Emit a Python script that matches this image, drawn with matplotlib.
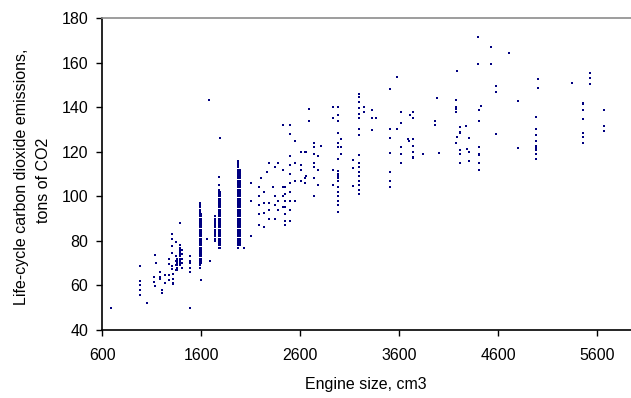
import matplotlib
matplotlib.use("Agg")
import matplotlib.pyplot as plt

plt.rcParams['font.family'] = ['Liberation Sans', 'DejaVu Sans']

# scattered cars, engines under 1500 cm3
small_cc = [690, 980, 980, 980, 980, 985, 1047,
            1120, 1140, 1125, 1130, 1130, 1180, 1180, 1180, 1206, 1206,
            1233, 1233, 1273, 1273, 1273, 1273,
            1300, 1300, 1300, 1300, 1300, 1308, 1318, 1318, 1318, 1318,
            1341, 1341, 1341, 1341, 1341,
            1358, 1358, 1358, 1358, 1358, 1358,
            1385, 1385, 1385, 1385, 1385, 1385, 1385, 1385, 1385, 1385, 1385,
            1400, 1400, 1400, 1400, 1400,
            1483, 1483, 1483, 1483, 1483, 1483]
small_co2 = [50, 68.5, 62, 58, 55.5, 60, 52,
             64, 70, 61.7, 59.7, 73.6, 66, 64, 63, 56.7, 58,
             64.7, 61, 71.7, 69.6, 64.7, 62.4,
             81, 77.6, 74.6, 68.6, 67.2, 83, 65, 63, 61, 60.5,
             79.6, 73, 71, 69, 67,
             72, 71, 70, 69, 68, 67,
             88, 78, 77, 76, 75, 74, 73, 72, 71, 70, 69,
             76, 74, 72, 70, 68,
             73, 71, 70, 68, 66, 50]

# dense model columns
col1600_co2 = [68, 69, 70, 71, 72, 73, 74, 75, 76, 77, 78, 79, 80, 81, 82, 83,
               84, 85, 86, 87, 88, 89, 90, 91, 92, 93, 94, 95, 96, 97]
col1600b_co2 = [70, 71, 72, 73, 74, 75, 76, 77, 78, 79, 80, 81, 82, 83, 84,
                85, 86, 87, 88, 89, 90, 91, 92]
col1750_co2 = [80, 81, 82, 83, 84, 85, 86, 87, 88, 89, 90, 91]
col1800_co2 = [77, 78, 79, 80, 81, 82, 83, 84, 85, 86, 87, 88, 89, 90, 91, 92,
               93, 94, 95, 96, 97, 98, 99, 100, 101, 102, 103, 105, 108.8]
col1800b_co2 = [77, 78, 79, 80, 81, 82, 83, 84, 85, 86, 87, 88, 89, 90, 91,
                92, 93, 94, 95, 96, 97, 98, 99, 100, 101, 102]
col2000_co2 = [77, 78, 79, 80, 81, 82, 83, 84, 85, 86, 87, 88, 89, 90, 91, 92,
               93, 94, 95, 96, 97, 98, 99, 100, 101, 102, 103, 104, 105, 106,
               107, 108, 109, 110, 111, 112, 113, 114, 115, 116]
col2000b_co2 = [78, 79, 80, 81, 82, 83, 84, 85, 86, 87, 88, 89, 90, 91, 92, 93,
                94, 95, 96, 97, 98, 99, 100, 101, 102, 103, 104, 105, 106, 107,
                108, 109, 110, 111, 112]

# scattered cars, 1500 - 3000 cm3
mid_cc = [1598, 1690, 1660, 1676, 1785, 2034,
          2100, 2100, 2100, 2184, 2184, 2184, 2184, 2184,
          2200, 2235, 2235, 2235, 2235, 2260, 2285, 2285, 2285, 2285, 2320,
          2346, 2346, 2346, 2346, 2376, 2376, 2376,
          2424, 2424, 2424, 2424, 2424,
          2448, 2448, 2448, 2448, 2448, 2448, 2448,
          2491, 2491, 2491, 2491, 2491, 2491, 2491, 2491, 2491, 2491,
          2542, 2542, 2542, 2542, 2603, 2603, 2603, 2603,
          2661, 2661, 2685, 2685, 2650, 2650, 2650,
          2739, 2739, 2739, 2739, 2739, 2739, 2739,
          2780, 2780, 2780, 2806,
          2930, 2930, 2930, 2930,
          2980, 2980, 2980, 2980, 2980, 2980, 2980, 2980, 2980, 2980, 2980,
          2980, 2980, 2980, 2980, 2980, 2980, 2980,
          3010, 3010, 3010]
mid_co2 = [62.6, 70.8, 81, 143, 126, 77,
           106, 98, 82, 104, 100, 96, 92, 87,
           108, 102, 97, 92.5, 86, 111, 115, 97, 94, 90, 104,
           113, 100, 96, 90, 115, 98, 94,
           132, 112, 104, 100, 95,
           104, 101, 98, 95, 92, 89, 87,
           132, 128, 118, 114, 110, 106, 102, 98, 94, 89,
           125, 115, 107, 98, 120, 114, 112, 107,
           120, 109, 139, 134, 120, 108, 106,
           124, 122, 119, 115, 113, 108, 100,
           118, 112, 105, 122.6,
           140, 135, 112, 105,
           140, 136.5, 134, 128.5, 124, 122, 116.6, 111.4, 110, 109, 108,
           107, 104, 102, 100, 98, 96, 93,
           125.7, 122, 119]

# scattered cars, over 3000 cm3
large_cc = [3128, 3128, 3128,
            3190, 3190, 3190, 3190, 3190, 3190, 3190, 3190, 3190,
            3190, 3190, 3190, 3190, 3190, 3190, 3190, 3190,
            3246, 3246, 3320, 3320, 3320, 3361,
            3507, 3507, 3507, 3507, 3507, 3507, 3507, 3575, 3575,
            3619, 3619, 3619, 3619, 3619, 3707, 3690,
            3710, 3734, 3734, 3737, 3694, 3737, 3737, 3737, 3737, 3836,
            3964, 3964, 3981, 4004,
            4173, 4173, 4173, 4173, 4184, 4184, 4173,
            4218, 4218, 4218, 4218, 4218, 4218,
            4275, 4280, 4302, 4300, 4308,
            4397, 4397, 4427, 4404, 4404, 4404, 4404, 4404, 4404, 4404,
            4522, 4522, 4573, 4573, 4580, 4709, 4803, 4803,
            5006, 5006,
            4979, 4979, 4979, 4979, 4979, 4979, 4979, 4979, 4979,
            5344, 5527, 5527, 5527,
            5453, 5453, 5453, 5453, 5453, 5453, 5453,
            5666, 5666, 5666]
large_co2 = [116.5, 112.5, 104.6,
             146, 144.6, 142.4, 139.8, 137, 135.3, 130.3, 127.4, 118.4,
             115, 113, 111, 109, 107, 105, 103, 101,
             140, 138, 138.7, 135, 129.7, 135,
             148, 130, 126, 119.3, 111, 107, 104, 153.6, 130,
             138, 132.7, 122, 119, 115, 136.6, 125.7,
             136.4, 137.6, 135, 125.6, 125, 122.6, 120, 117.8, 117, 119,
             134, 132, 144, 119.6,
             143, 140, 139, 137.6, 156, 126.5, 124,
             131, 129, 128.4, 120.7, 119, 114.8,
             131.5, 121.4, 120, 116, 126,
             171.3, 159.2, 140.5, 138.7, 134, 122.3, 119, 118.6, 114.8, 111.8,
             166.8, 159.2, 149.4, 147, 128, 164.4, 142.8, 121.6,
             152.6, 148.5,
             135.8, 130, 127.6, 125, 122.7, 121.6, 120.6, 119, 116.6,
             150.7, 155.1, 152.9, 150.2,
             142, 141.4, 138.7, 134.5, 128.3, 126.5, 124,
             138.7, 131.5, 129.3]

x_ticks = [600, 1600, 2600, 3600, 4600, 5600]
y_ticks = [40, 60, 80, 100, 120, 140, 160, 180]

W, H = 631, 398
fig = plt.figure(figsize=(W / 100, H / 100), dpi=100)
ax = fig.add_axes([102.3 / W, 1 - 330 / H, (W - 102.3) / W, 312 / H])

navy = '#000080'
kw = dict(marker='s', s=2.3, c=navy, linewidths=0)

ax.scatter(small_cc, small_co2, **kw)
ax.scatter(mid_cc, mid_co2, **kw)
ax.scatter(large_cc, large_co2, **kw)
ax.scatter([1582] * len(col1600_co2), col1600_co2, **kw)
ax.scatter([1598] * len(col1600b_co2), col1600b_co2, **kw)
ax.scatter([1737] * len(col1750_co2), col1750_co2, **kw)
ax.scatter([1775] * len(col1800_co2), col1800_co2, **kw)
ax.scatter([1792] * len(col1800b_co2), col1800b_co2, **kw)
ax.scatter([1972] * len(col2000_co2), col2000_co2, **kw)
ax.scatter([1992] * len(col2000b_co2), col2000b_co2, **kw)

ax.set_xlim(600, 600 + (W - 102.3) / 99 * 1000)
ax.set_ylim(40, 180)
ax.set_xticks(x_ticks)
ax.set_yticks(y_ticks)

for s in ['left', 'bottom']:
    ax.spines[s].set_color('black')
    ax.spines[s].set_linewidth(1.2)
ax.spines['right'].set_visible(False)
ax.spines['top'].set_color('#8c8c8c')
ax.spines['top'].set_linewidth(1.2)

ax.tick_params(axis='both', direction='out', length=4, width=1, colors='black',
               labelsize=11.5)
ax.tick_params(axis='y', pad=6)
ax.tick_params(axis='x', pad=9)

fig.text(366 / W, 1 - 385 / H, 'Engine size, cm3', ha='center', va='center',
         fontsize=11.5)
fig.text(22 / W, 1 - 177 / H, 'Life-cycle carbon dioxide emissions,',
         rotation=90, ha='center', va='center', fontsize=11.5)
fig.text(44 / W, 1 - 180 / H, 'tons of CO2',
         rotation=90, ha='center', va='center', fontsize=11.5)

fig.savefig('out.png', dpi=100)
